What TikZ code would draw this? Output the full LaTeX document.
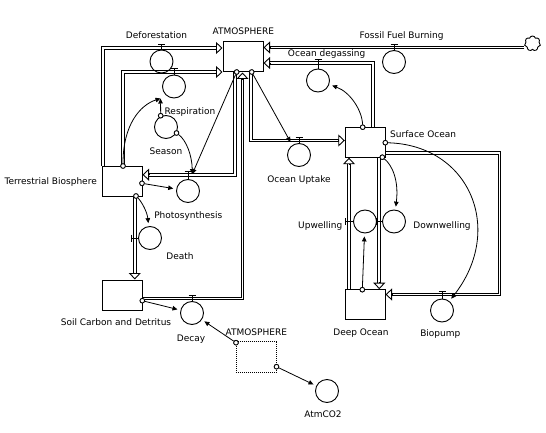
\documentclass[tikz,border=0pt]{standalone}
\usepackage{fontspec}
\setmainfont{DejaVu Sans}
\usetikzlibrary{arrows.meta,shapes.symbols,calc}
\begin{document}
\begin{tikzpicture}[x=1pt,y=-1pt,
  font=\fontsize{9}{11}\selectfont,
  stock/.style={draw, line width=1pt, minimum width=40pt, minimum height=30pt, inner sep=0, fill=white},
  ghost/.style={draw, line width=0.9pt, dash pattern=on 1pt off 1pt, minimum width=40.5pt, minimum height=30.5pt, inner sep=0},
  valve/.style={circle, draw, line width=0.9pt, minimum size=23pt, inner sep=0},
  conv/.style={circle, draw, line width=0.9pt, minimum size=23pt, inner sep=0},
  dot/.style={circle, draw, fill=white, line width=0.8pt, minimum size=4.6pt, inner sep=0},
  pipe/.style={line width=1pt, double=white, double distance=1.7pt, line join=miter, shorten >=5pt},
  ftip/.style={line width=0.9pt, line join=miter, -{Triangle[length=6.5pt,width=12pt,fill=white]}},
  conn/.style={line width=0.8pt, -{Triangle[length=5pt,width=4.5pt]}},
  toV/.style={shorten >=3pt},
  tmark/.style={line width=0.9pt},
  lbl/.style={inner sep=0, anchor=base},
]
\useasboundingbox (0,0) rectangle (546,433);

% stocks
\node[stock] (atm) at (243,57) {};
\node[stock] (tb) at (122,181) {};
\node[stock] (so) at (365.3,142.2) {};
\node[stock] (do) at (365,304.7) {};
\node[stock] (sc) at (122.3,295) {};
\node[ghost] (gh) at (256.2,357) {};
\node[draw, cloud, cloud puffs=7, aspect=1.1, minimum width=16pt, minimum height=15pt, inner sep=0, line width=0.9pt] (cloud) at (532.5,43.5) {};

% pipe end points
\coordinate (pDef) at (atm.west |- 0,48);
\coordinate (pRes) at (atm.west |- 0,72);
\coordinate (pPho) at (tb.east |- 0,174.7);
\coordinate (pDec) at (atm.south -| 242.5,0);
\coordinate (pUpt) at (so.west |- 0,140.5);
\coordinate (pDeg) at (atm.east |- 0,63);
\coordinate (pFos) at (atm.east |- 0,47.5);
\coordinate (pDea) at (sc.north -| 134.8,0);
\coordinate (pDow) at (do.north -| 379.3,0);
\coordinate (pUpw) at (so.south -| 349,0);
\coordinate (pBio) at (do.east |- 0,294.5);

% pipes (flows)
\draw[pipe] (tb.north -| 103.3,0) |- (pDef);
\draw[pipe] (tb.north -| 123.3,0) |- (pRes);
\draw[pipe] (atm.south -| 234.7,0) |- (pPho);
\draw[pipe] (sc.east |- 0,298.5) -| (pDec);
\draw[pipe] (atm.south -| 251.3,0) |- (pUpt);
\draw[pipe] (so.north -| 373.3,0) |- (pDeg);
\draw[pipe] (cloud.west |- 0,47.5) -- (pFos);
\draw[pipe] (tb.south -| 134.8,0) -- (pDea);
\draw[pipe] (so.south -| 379.3,0) -- (pDow);
\draw[pipe] (do.north -| 349,0) -- (pUpw);
\draw[pipe] (so.east |- 0,153) -- (499.5,153) |- (pBio);

\draw[ftip] (pDef) ++(-7,0) -- (pDef);
\draw[ftip] (pRes) ++(-7,0) -- (pRes);
\draw[ftip] (pPho) ++(7,0) -- (pPho);
\draw[ftip] (pDec) ++(0,7) -- (pDec);
\draw[ftip] (pUpt) ++(-7,0) -- (pUpt);
\draw[ftip] (pDeg) ++(7,0) -- (pDeg);
\draw[ftip] (pFos) ++(7,0) -- (pFos);
\draw[ftip] (pDea) ++(0,-7) -- (pDea);
\draw[ftip] (pDow) ++(0,-7) -- (pDow);
\draw[ftip] (pUpw) ++(0,7) -- (pUpw);
\draw[ftip] (pBio) ++(7,0) -- (pBio);

% valves
\node[valve] (defo) at (161.5,61.5) {};
\node[valve] (resp) at (174,86.5) {};
\node[valve] (photo) at (188,191) {};
\node[valve] (death) at (150,238) {};
\node[valve] (decay) at (192,313) {};
\node[valve] (uptake) at (299,155) {};
\node[valve] (degas) at (318,80.5) {};
\node[valve] (ffb) at (394,62) {};
\node[valve] (upw) at (365,221.5) {};
\node[valve] (downw) at (394,221.5) {};
\node[valve] (biop) at (442,310.5) {};
% converters
\node[conv] (season) at (166,127) {};
\node[conv] (atmco2) at (327,391) {};

% valve T marks
\draw[tmark] (defo.north) -- (defo.north |- 0,44.8) ++(-3.5,0) -- ++(7,0);
\draw[tmark] (resp.north) -- (resp.north |- 0,68.8) ++(-3.5,0) -- ++(7,0);
\draw[tmark] (photo.north) -- (photo.north |- 0,171.5) ++(-3.5,0) -- ++(7,0);
\draw[tmark] (decay.north) -- (decay.north |- 0,295.3) ++(-3.5,0) -- ++(7,0);
\draw[tmark] (uptake.north) -- (uptake.north |- 0,137.3) ++(-3.5,0) -- ++(7,0);
\draw[tmark] (degas.north) -- (degas.north |- 0,59.8) ++(-3.5,0) -- ++(7,0);
\draw[tmark] (ffb.north) -- (ffb.north |- 0,44.3) ++(-3.5,0) -- ++(7,0);
\draw[tmark] (biop.north) -- (biop.north |- 0,291.3) ++(-3.5,0) -- ++(7,0);
\draw[tmark] (death.west) -- (death.west -| 131.6,0) ++(0,-3.5) -- ++(0,7);
\draw[tmark] (upw.west) -- (upw.west -| 345.8,0) ++(0,-3.5) -- ++(0,7);
\draw[tmark] (downw.west) -- (downw.west -| 376.1,0) ++(0,-3.5) -- ++(0,7);

% connector start dots
\node[dot] (atmA) at (236.7,72) {};
\node[dot] (atmB) at (251.7,72) {};
\node[dot] (tbT) at (123,166) {};
\node[dot] (tbR) at (142,183.3) {};
\node[dot] (tbB) at (136,196) {};
\node[dot] (seaT) at (160.7,115.7) {};
\node[dot] (seaR) at (176.5,133) {};
\node[dot] (scR) at (142.3,300.7) {};
\node[dot] (soT) at (362.7,127.2) {};
\node[dot] (soR) at (385.3,142.7) {};
\node[dot] (soB) at (382.3,157.2) {};
\node[dot] (doT) at (362.3,289.7) {};
\node[dot] (ghA) at (236,342.7) {};
\node[dot] (ghB) at (276.5,366.7) {};

\coordinate (respIn) at (160.5,98.5);
\coordinate (photoIn) at (192.3,174);
\coordinate (uptakeIn) at (290.5,142);

% connectors
\draw[conn] (tbT) .. controls (123,125) and (140,105) .. (respIn);
\draw[conn] (seaT) -- (respIn);
\draw[conn] (seaR) .. controls (186,140) and (192,155) .. (photoIn);
\draw[conn] (atmA) -- (photoIn);
\draw[conn,toV] (tbR) -- (photo);
\draw[conn,toV] (tbB) .. controls (141,201) and (147,211) .. (death);
\draw[conn,toV] (scR) -- (decay);
\draw[conn,toV] (ghA) -- (decay);
\draw[conn,toV] (ghB) -- (atmco2);
\draw[conn] (atmB) -- (uptakeIn);
\draw[conn,toV] (soT) .. controls (362,110) and (350,92) .. (degas);
\draw[conn,toV] (doT) -- (upw);
\draw[conn,toV] (soB) .. controls (392,165) and (399,180) .. (downw);
\draw[conn,toV] (soR) .. controls (470,145) and (505,230) .. (biop);

% redraw dots on top
\foreach \d in {atmA,atmB,tbT,tbR,tbB,seaT,seaR,scR,soT,soR,soB,doT,ghA,ghB}
  \draw[line width=0.8pt, fill=white] (\d) circle (2.3pt);

% labels
\node[lbl] (lAtm) at (243.3,35) {ATMOSPHERE};
\node[lbl] (lDef) at (156.5,38.5) {Deforestation};
\node[lbl] (lFos) at (401.5,38.5) {Fossil Fuel Burning};
\node[lbl] (lDeg) at (326.7,56.7) {Ocean degassing};
\node[lbl] (lRes) at (190,115) {Respiration};
\node[lbl] (lSea) at (166,154) {Season};
\node[lbl, anchor=base east] (lTB) at (97,184.3) {Terrestrial Biosphere};
\node[lbl] (lPho) at (188.3,218.3) {Photosynthesis};
\node[lbl] (lDea) at (180,259.3) {Death};
\node[lbl, anchor=base west] (lSO) at (390,137.7) {Surface Ocean};
\node[lbl] (lUpt) at (299,182.7) {Ocean Uptake};
\node[lbl] (lUpw) at (320.3,228.3) {Upwelling};
\node[lbl] (lDow) at (442,228.3) {Downwelling};
\node[lbl] (lSC) at (116,325) {Soil Carbon and Detritus};
\node[lbl] (lDec) at (191,341) {Decay};
\node[lbl] (lGh) at (256.3,335) {ATMOSPHERE};
\node[lbl] (lDO) at (361,335) {Deep Ocean};
\node[lbl] (lBio) at (440.3,336) {Biopump};
\node[lbl] (lCO2) at (323,417) {AtmCO2};
\end{tikzpicture}
\end{document}
